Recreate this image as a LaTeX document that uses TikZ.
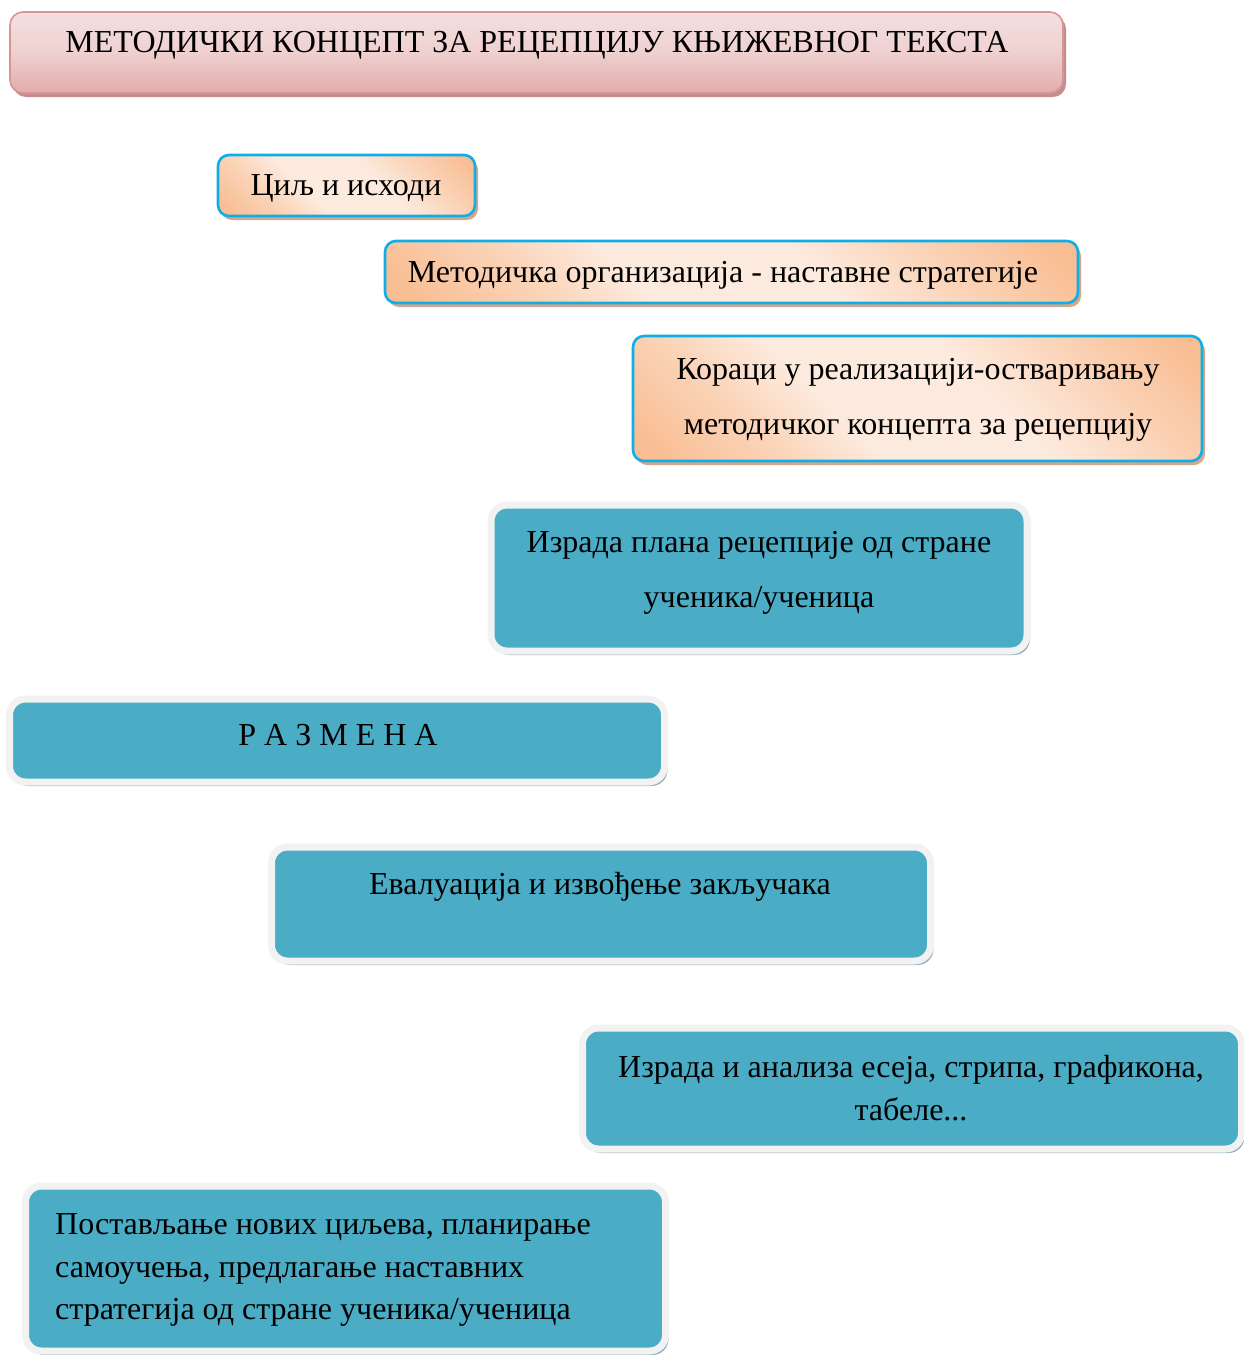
\documentclass[tikz,border=0pt]{standalone}
\usepackage{fontspec}
\setmainfont{Liberation Serif}
\usetikzlibrary{shadows}
\definecolor{pinkB}{HTML}{D99594}
\definecolor{pinkD}{HTML}{E2ABAA}
\definecolor{pinkL}{HTML}{F4E0E0}
\definecolor{pinkS}{HTML}{C38E8E}
\definecolor{orD}{HTML}{F8BD92}
\definecolor{orL}{HTML}{FDEADE}
\definecolor{orS}{HTML}{D2A78B}
\definecolor{cyanB}{HTML}{0FAEE6}
\definecolor{blueF}{HTML}{4BACC6}
\definecolor{ringW}{HTML}{F2F2F2}
\definecolor{blueS}{HTML}{92AFBC}
\pgfdeclarehorizontalshading{orshade}{100bp}{color(0bp)=(orD); color(17bp)=(orD); color(30bp)=(orD!50!orL); color(40bp)=(orL); color(58bp)=(orL); color(70bp)=(orD!50!orL); color(83bp)=(orD); color(100bp)=(orD)}
\begin{document}
\begin{tikzpicture}[x=1pt,y=-1pt,
  titlebox/.style={rounded corners=13pt, draw=pinkB, line width=1.6pt,
    top color=pinkL, bottom color=pinkD, middle color=pinkL!70!pinkD,
    drop shadow={shadow xshift=3pt, shadow yshift=-4pt, fill=pinkS, opacity=1},
    inner sep=0pt},
  orbox/.style={rounded corners=11pt, draw=cyanB, line width=2.6pt,
    shading=orshade, shading angle=45,
    drop shadow={shadow xshift=3pt, shadow yshift=-4pt, fill=orS, opacity=1},
    inner sep=0pt},
  bluebox/.style={rounded corners=16pt, draw=ringW, line width=7pt, fill=blueF,
    drop shadow={shadow xshift=3pt, shadow yshift=-4pt, fill=blueS, opacity=1},
    inner sep=0pt},
  txt/.style={font=\fontsize{32}{55}\selectfont, align=center, inner sep=0pt, text=black},
  txtb/.style={font=\fontsize{32}{42.5}\selectfont, inner sep=0pt, text=black},
]
\useasboundingbox (0,0) rectangle (1243,1355);

% title
\node[titlebox, minimum width=1053pt, minimum height=81pt] (title) at (536.5,52.5) {};
\node[font=\fontsize{32}{36}\selectfont, inner sep=0pt] (titletxt) at (537,45)
  {МЕТОДИЧКИ КОНЦЕПТ ЗА РЕЦЕПЦИЈУ КЊИЖЕВНОГ ТЕКСТА};

% orange boxes
\node[orbox, minimum width=257pt, minimum height=61pt] (cilj) at (346.5,185.5) {};
\node[txt] (ciljtxt) at (346,188) {Циљ и исходи};

\node[orbox, minimum width=693pt, minimum height=62pt] (metod) at (731.5,272) {};
\node[txt] (metodtxt) at (723,275) {Методичка организација - наставне стратегије};

\node[orbox, minimum width=569pt, minimum height=125pt] (koraci) at (917.5,398.5) {};
\node[txt] (koracitxt) at (918,400) {Кораци у реализацији-остваривању\\методичког концепта за рецепцију};

% blue boxes
\node[bluebox, minimum width=536pt, minimum height=146pt] (plan) at (759,578) {};
\node[txt] (plantxt) at (759,573) {Израда плана рецепције од стране\\ученика/ученица};

\node[bluebox, minimum width=655pt, minimum height=83pt] (razmena) at (337,740.5) {};
\node[txt] (razmenatxt) at (338,735) {Р А З М Е Н А};

\node[bluebox, minimum width=659pt, minimum height=114pt] (eval) at (601,904) {};
\node[txt] (evaltxt) at (600,887) {Евалуација и извођење закључака};

\node[bluebox, minimum width=659pt, minimum height=121pt] (esej) at (912,1088.5) {};
\node[txtb, align=center] (esejtxt) at (911,1088) {Израда и анализа есеја, стрипа, графикона,\\табеле...};

\node[bluebox, minimum width=640pt, minimum height=165pt] (novi) at (345.5,1268.5) {};
\node[txtb, align=left, anchor=west] (novitxt) at (55,1270) {Постављање нових циљева, планирање\\самоучења, предлагање наставних\\стратегија од стране ученика/ученица};
\end{tikzpicture}
\end{document}
